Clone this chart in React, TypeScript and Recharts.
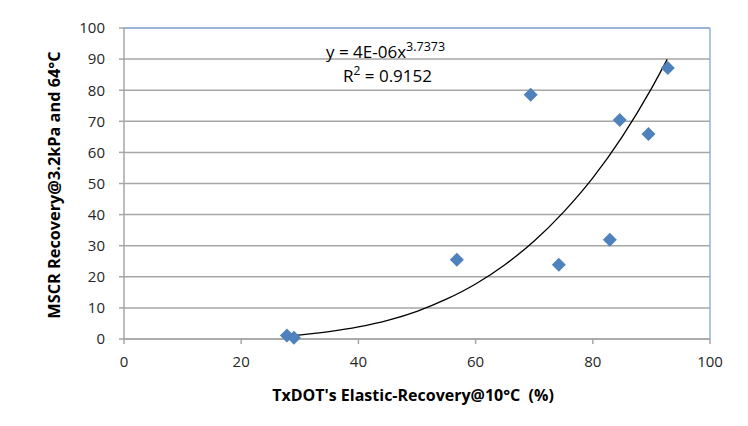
import { CartesianGrid, Customized, ReferenceLine, Scatter, ScatterChart, XAxis, YAxis } from "recharts";

// measured points: elastic recovery (%) vs MSCR recovery
const elasticRecovery = [27.8, 29.0, 56.8, 69.4, 74.2, 82.9, 84.6, 89.5, 92.8];
const mscrRecovery = [1.1, 0.4, 25.5, 78.5, 23.9, 31.9, 70.4, 65.9, 87.1];

// power trendline
const trendX = [28, 35, 40, 45, 50, 55, 60, 65, 70, 75, 80, 85, 90, 92.7];
const trendY = [1.0, 2.4, 3.9, 6.0, 8.9, 12.8, 17.7, 23.9, 31.5, 40.8, 51.8, 65.0, 80.5, 89.9];

const xTicks = [0, 20, 40, 60, 80, 100];
const yTicks = [0, 10, 20, 30, 40, 50, 60, 70, 80, 90, 100];

const points = elasticRecovery.map((x, i) => ({ x, y: mscrRecovery[i] }));
const trend = trendX.map((x, i) => ({ x, y: trendY[i] }));

const font = "'Open Sans', 'Liberation Sans', Arial, sans-serif";
const tickStyle = { fontSize: 15, fill: "#262626", fontFamily: font };

const Diamond = (props: any) => {
  const { cx, cy } = props;
  if (cx == null || cy == null) return null;
  const r = 7;
  return <polygon points={`${cx},${cy - r} ${cx + r},${cy} ${cx},${cy + r} ${cx - r},${cy}`} fill="#4f81bd" />;
};

const Titles = () => (
  <g fontFamily={font} fill="#000">
    <text x={318} y={50} fontSize={17}>
      y = 4E-06x<tspan dy={-7} fontSize={12.5}>3.7373</tspan>
    </text>
    <text x={335} y={74} fontSize={17}>
      R<tspan dy={-7} fontSize={12}>2</tspan>
      <tspan dy={7}> = 0.9152</tspan>
    </text>
    <text x={405} y={393} fontSize={16} fontWeight="bold" textAnchor="middle">
      TxDOT's Elastic-Recovery@10°C{"\u00a0\u00a0"}(%)
    </text>
    <text
      x={52}
      y={177}
      fontSize={16.3}
      fontWeight="bold"
      textAnchor="middle"
      transform="rotate(-90 52 177)"
    >
      MSCR Recovery@3.2kPa and 64°C
    </text>
  </g>
);

export default function App() {
  return (
    <ScatterChart width={740} height={410} margin={{ top: 20, right: 38, left: 56, bottom: 49 }}>
      <CartesianGrid vertical={false} stroke="#a6a6a6" strokeWidth={1.5} />
      <XAxis
        type="number"
        dataKey="x"
        domain={[0, 100]}
        ticks={xTicks}
        height={30}
        tick={tickStyle}
        tickSize={5}
        tickMargin={12}
        axisLine={{ stroke: "#a6a6a6", strokeWidth: 1.5 }}
        tickLine={{ stroke: "#a6a6a6", strokeWidth: 1.5 }}
      />
      <YAxis
        type="number"
        dataKey="y"
        domain={[0, 100]}
        ticks={yTicks}
        width={60}
        tick={tickStyle}
        tickSize={5}
        tickMargin={14}
        axisLine={{ stroke: "#a6a6a6", strokeWidth: 1.5 }}
        tickLine={{ stroke: "#a6a6a6", strokeWidth: 1.5 }}
      />
      <ReferenceLine y={100} stroke="#8db3e2" strokeWidth={1.5} />
      <ReferenceLine x={100} stroke="#8db3e2" strokeWidth={1.5} />
      <Scatter
        data={trend}
        line={{ stroke: "#000", strokeWidth: 1.3 }}
        lineJointType="monotoneX"
        shape={() => null}
        isAnimationActive={false}
      />
      <Scatter data={points} shape={Diamond} isAnimationActive={false} />
      <Customized component={Titles} />
    </ScatterChart>
  );
}
